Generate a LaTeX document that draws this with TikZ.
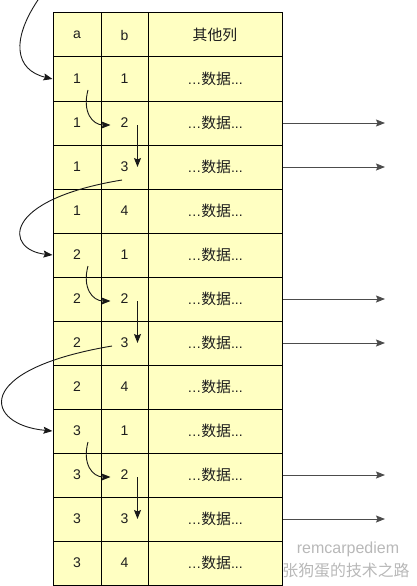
\documentclass[tikz,border=0pt]{standalone}
\usepackage{fontspec}
\setmainfont{Liberation Sans}
\newfontfamily\cjk{Noto Sans CJK SC}[Scale=1.06]
\usetikzlibrary{arrows.meta,calc}
\definecolor{cellfill}{RGB}{255,255,194}
\definecolor{txt}{RGB}{30,30,30}
\tikzset{
  cell/.style={draw=black, line width=1pt, fill=cellfill, inner sep=0pt,
    minimum height=44pt, text=txt, font=\fontsize{14}{16}\selectfont},
  acell/.style={cell, minimum width=48pt},
  bcell/.style={cell, minimum width=47pt},
  ccell/.style={cell, minimum width=134pt},
  tip/.style={-{Stealth[length=9pt,width=7pt,inset=1.5pt]}},
  carrow/.style={tip, line width=0.9pt, draw=black!90},
  rarrow/.style={tip, line width=0.9pt, draw=black!70},
  wm/.style={text=black!28, font=\fontsize{16}{18}\selectfont, inner sep=0pt}
}
\begin{document}
\begin{tikzpicture}[x=1pt,y=-1pt]
\useasboundingbox (0,0) rectangle (417,586);
% header
\node[acell] (a0) at (77,35) {a};
\node[bcell] (b0) at (124.5,35) {b};
\node[ccell] (c0) at (215,35) {\cjk 其他列};
% rows
\foreach \va/\vb [count=\i] in {1/1,1/2,1/3,1/4,2/1,2/2,2/3,2/4,3/1,3/2,3/3,3/4}{
  \node[acell] (a\i) at (77,35+44*\i) {\va};
  \node[bcell] (b\i) at (124.5,35+44*\i) {\vb};
  \node[ccell] (c\i) at (215,35+44*\i) {…{\cjk 数据}...};
}
% right arrows
\foreach \i in {2,3,6,7,10,11}{
  \coordinate (e\i) at (385,35+44*\i);
  \draw[rarrow] (c\i.east) -- (e\i);
}
% groups
\foreach \r/\s/\t in {1/2/3,5/6/7,9/10/11}{
  \draw[carrow] ($(a\r)+(11,11)$) .. controls +(-6,22) and +(-18,0) .. ($(b\s)+(-14,2)$);
  \draw[carrow] ($(b\s)+(13,2)$) -- ($(b\t)+(13,0)$);
}
% jumps between groups
\coordinate (top) at (40,-3);
\draw[carrow] (top) .. controls (10,40) and (15,70) .. (a1.west);
\draw[carrow] ($(b3)+(-2.5,13)$) .. controls (0,200) and (5,250) .. (a5.west);
\draw[carrow] ($(b7)+(-12.5,3)$) .. controls (-30,370) and (-15,425) .. (a9.west);
% watermark
\node[wm] (wm1) at (348,549) {remcarpediem};
\node[wm, font=\fontsize{15}{17}\selectfont] (wm2) at (346,571) {\cjk 张狗蛋的技术之路};
\end{tikzpicture}
\end{document}
